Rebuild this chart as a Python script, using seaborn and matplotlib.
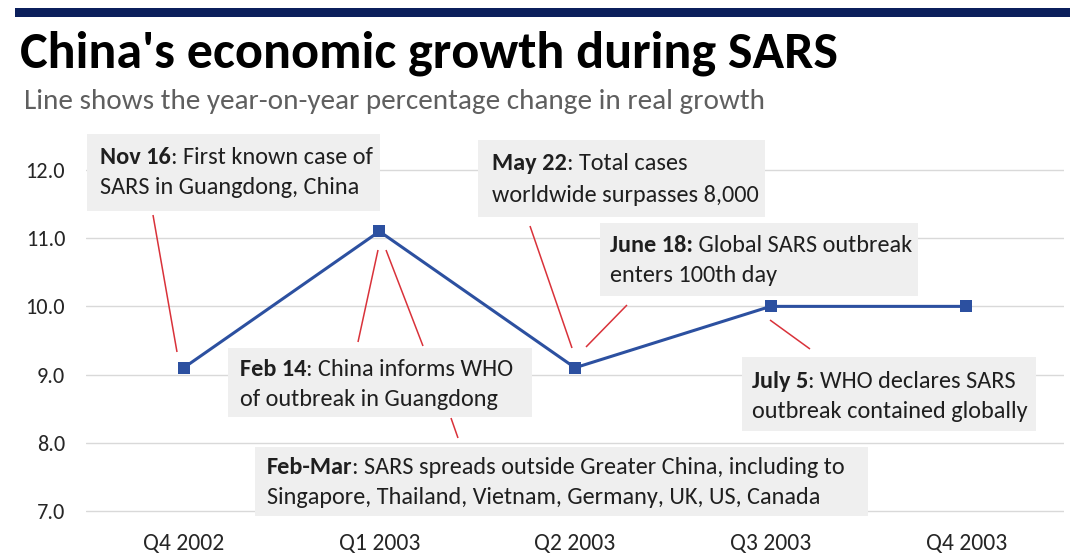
import numpy as np
import pandas as pd
import matplotlib
matplotlib.use("Agg")
import matplotlib.pyplot as plt
import seaborn as sb
from matplotlib.patches import Rectangle

# --- DATA
quarters = ["Q4 2002", "Q1 2003", "Q2 2003", "Q3 2003", "Q4 2003"]
growth = [9.1, 11.1, 9.1, 10.0, 10.0]
yticks = [7.0, 8.0, 9.0, 10.0, 11.0, 12.0]

title = "China's economic growth during SARS"
subtitle = "Line shows the year-on-year percentage change in real growth"

# (bold part, rest of line 1, line 2)
notes = [
    ("Nov 16", ": First known case of", "SARS in Guangdong, China"),
    ("Feb 14", ": China informs WHO", "of outbreak in Guangdong"),
    ("Feb-Mar", ": SARS spreads outside Greater China, including to",
     "Singapore, Thailand, Vietnam, Germany, UK, US, Canada"),
    ("May 22", ": Total cases", "worldwide surpasses 8,000"),
    ("June 18:", " Global SARS outbreak", "enters 100th day"),
    ("July 5", ": WHO declares SARS", "outbreak contained globally"),
]

# --- LAYOUT (pixels, origin top-left)
boxes = [  # x0, y0, x1, y1, text x, line1 y, line2 y
    (87, 134, 380, 211, 100, 157, 188),
    (228, 348, 532, 417, 240, 369, 400),
    (255, 447, 868, 516, 267, 467, 497),
    (478, 140, 765, 217, 492, 163, 195),
    (600, 223, 918, 296, 610, 245, 276),
    (742, 357, 1036, 431, 752, 381, 412),
]
leaders = [
    (153, 215, 177, 352),
    (378, 250, 358, 342),
    (386, 250, 423, 346),
    (451, 418, 458, 438),
    (530, 226, 572, 348),
    (627, 305, 586, 347),
    (770, 320, 810, 349),
]

W, H = 1084, 559
blue = "#2c50a0"
red = "#d9323a"
boxcol = "#efefef"
txt = "#1f1f1f"

sb.set_style("white")
plt.rcParams["font.family"] = ["Carlito", "DejaVu Sans"]

df = pd.DataFrame({"quarter": quarters, "growth": growth})

fig = plt.figure(figsize=(W / 100, H / 100), dpi=100)
ax = fig.add_axes([86 / W, (H - 524.6) / H, 978 / W, 388.7 / H])

sb.lineplot(data=df, x="quarter", y="growth", sort=False, ax=ax, color=blue,
            linewidth=2.2, marker="s", markersize=9, markeredgewidth=0, zorder=3)

ax.set_xlim(-0.5, 4.5)
ax.set_ylim(6.8, 12.5)
ax.set_yticks(yticks)
ax.set_yticklabels([f"{v:.1f}" for v in yticks])
ax.grid(axis="y", color="#d9d9d9", linewidth=1)
ax.grid(axis="x", visible=False)
for s in ax.spines.values():
    s.set_visible(False)
ax.tick_params(axis="y", length=0, pad=15, labelsize=16, labelcolor="#262626")
ax.tick_params(axis="x", length=0, pad=6, labelsize=17, labelcolor="#262626")
ax.set_xlabel("")
ax.set_ylabel("")

# overlay in pixel coords for titles and notes
ov = fig.add_axes([0, 0, 1, 1], zorder=5)
ov.set_xlim(0, W)
ov.set_ylim(H, 0)
ov.axis("off")

ov.add_patch(Rectangle((15, 8), 1055, 9, color="#0b1f5c", lw=0))
ov.text(20, 53, title, fontsize=37.5, fontweight="bold", color="black", va="center", ha="left")
ov.text(24, 101, subtitle, fontsize=21, color="#5f5f5f", va="center", ha="left")

for (x0, y0, x1, y1) in leaders:
    ov.plot([x0, x1], [y0, y1], color=red, lw=1.1, solid_capstyle="butt")

fig.canvas.draw()
rend = fig.canvas.get_renderer()
for (bold, rest, line2), (bx0, by0, bx1, by1, tx, l1, l2) in zip(notes, boxes):
    ov.add_patch(Rectangle((bx0, by0), bx1 - bx0, by1 - by0, color=boxcol, lw=0, zorder=1))
    t = ov.text(tx, l1, bold, fontsize=17.5, fontweight="bold", color=txt, va="center", ha="left", zorder=2)
    wb = t.get_window_extent(renderer=rend).width
    ov.text(tx + wb, l1, rest, fontsize=17.5, color=txt, va="center", ha="left", zorder=2)
    ov.text(tx, l2, line2, fontsize=17.5, color=txt, va="center", ha="left", zorder=2)

fig.savefig("out.png", dpi=100)
